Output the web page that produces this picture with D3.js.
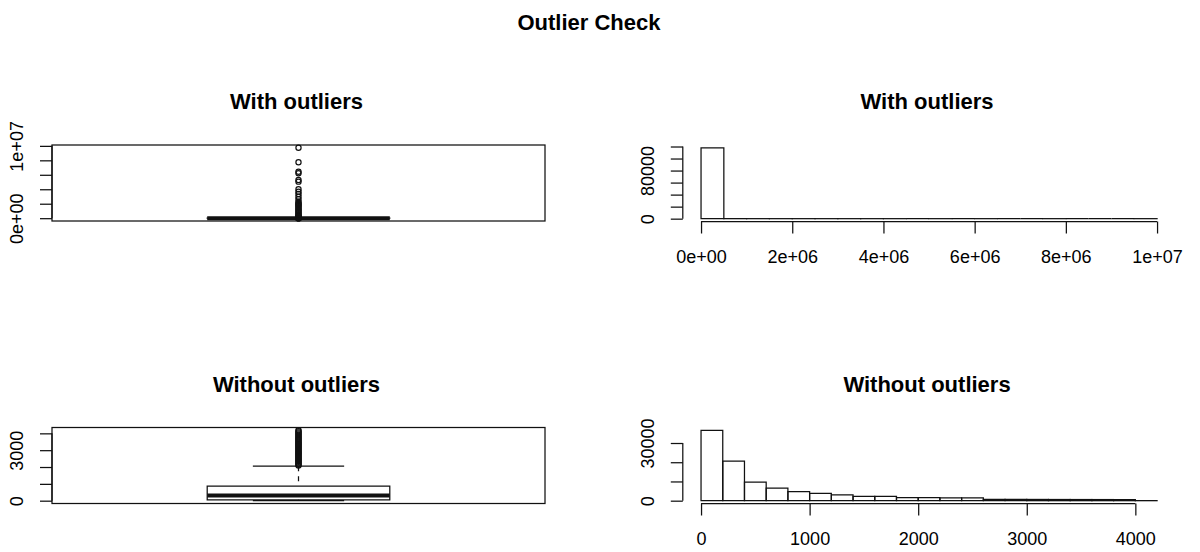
<!DOCTYPE html>
<html>
<head>
<meta charset="utf-8">
<script src="https://cdn.jsdelivr.net/npm/d3@7"></script>
<style>
  body { margin: 0; background: #fff; }
  svg { display: block; }
  text { font-family: "Liberation Sans", Arial, sans-serif; fill: #000; }
</style>
</head>
<body>
<svg id="chart" width="1200" height="552"></svg>
<script>
// ---------- data ----------
const mainTitle = "Outlier Check";
const panelTitles = ["With outliers", "With outliers", "Without outliers", "Without outliers"];

// box statistics: lower whisker, Q1, median, Q3, upper whisker
const boxAllStats = [0, 60, 330, 960, 2120];
const boxAllOutliers = [2150, 2600, 3400, 4500, 6800, 12000, 26000, 48000, 85000, 130000,
  210000, 300000, 420000, 550000, 700000, 860000, 1020000, 1180000, 1350000, 1520000,
  1680000, 1840000, 1970000, 2100000, 2280000, 2610000, 2970000, 3350000, 3670000,
  4000000, 5050000, 5280000, 6210000, 6430000, 7730000, 9730000];
const boxAllTicks = [0, 2e6, 4e6, 6e6, 8e6, 1e7];
const boxAllTickLabels = ["0e+00", "", "", "", "", "1e+07"];

const boxTrimStats = [0, 54, 310, 866, 2050];
const boxTrimOutliers = [2090, 2140, 2200, 2260, 2310, 2370, 2420, 2480, 2540, 2600,
  2650, 2710, 2770, 2830, 2880, 2940, 3000, 3060, 3120, 3170, 3230, 3290, 3350, 3400,
  3460, 3520, 3580, 3640, 3700, 3760, 3820, 3880, 3940, 4000, 4060, 4120, 4180];
const boxTrimTicks = [0, 1000, 2000, 3000, 4000];
const boxTrimTickLabels = ["0", "", "", "3000", ""];

const histAllBreaks = [0, 5e5, 1e6, 1.5e6, 2e6, 2.5e6, 3e6, 3.5e6, 4e6, 4.5e6, 5e6,
  5.5e6, 6e6, 6.5e6, 7e6, 7.5e6, 8e6, 8.5e6, 9e6, 9.5e6, 1e7];
const histAllCounts = [117800, 58, 21, 9, 5, 2, 1, 1, 1, 0, 2, 0, 2, 0, 0, 1, 0, 0, 0, 1];
const histAllXTicks = [0, 2e6, 4e6, 6e6, 8e6, 1e7];
const histAllXLabels = ["0e+00", "2e+06", "4e+06", "6e+06", "8e+06", "1e+07"];
const histAllYTicks = [0, 20000, 40000, 60000, 80000, 100000, 120000];
const histAllYLabels = ["0", "", "", "", "80000", "", ""];

const histTrimBreaks = [0, 200, 400, 600, 800, 1000, 1200, 1400, 1600, 1800, 2000,
  2200, 2400, 2600, 2800, 3000, 3200, 3400, 3600, 3800, 4000, 4200];
const histTrimCounts = [36600, 20600, 9600, 6500, 4700, 3850, 3000, 2300, 2250, 1550,
  1550, 1500, 1500, 700, 680, 650, 620, 600, 580, 560, 30];
const histTrimXTicks = [0, 1000, 2000, 3000, 4000];
const histTrimXLabels = ["0", "1000", "2000", "3000", "4000"];
const histTrimYTicks = [0, 10000, 20000, 30000];
const histTrimYLabels = ["0", "", "", "30000"];

// ---------- layout ----------
const INK = "#111";
const LW = 1.25;
const TICK = 12;
const panels = {
  tl: { x: 52, y: 145, w: 493, h: 76 },
  tr: { x: 682.8, y: 145, w: 492.5, h: 76.5 },
  bl: { x: 52, y: 427.5, w: 493, h: 76 },
  br: { x: 682.8, y: 427.5, w: 492.5, h: 76 }
};

const svg = d3.select("#chart");

// linear scale whose domain is the data range padded by 4% on each side
function padScale(lo, hi, r0, r1) {
  const pad = (hi - lo) * 0.04;
  return d3.scaleLinear().domain([lo - pad, hi + pad]).range([r0, r1]);
}

function title(txt, x, y) {
  svg.append("text").attr("x", x).attr("y", y)
    .attr("text-anchor", "middle").attr("font-size", 22).attr("font-weight", "bold")
    .text(txt);
}

function leftAxis(g, y, x0, ticks, labels) {
  const ax = d3.axisLeft(y).tickValues(ticks).tickSize(TICK).tickSizeOuter(0)
    .tickFormat((d, i) => labels[i]);
  const a = g.append("g").attr("transform", `translate(${x0},0)`).call(ax);
  a.select(".domain").remove();
  a.append("line").attr("x1", 0).attr("x2", 0)
    .attr("y1", y(ticks[0])).attr("y2", y(ticks[ticks.length - 1]))
    .attr("stroke", INK).attr("stroke-width", LW);
  a.selectAll(".tick line").attr("stroke", INK).attr("stroke-width", LW);
  a.selectAll(".tick text")
    .attr("x", null).attr("dy", null).attr("y", 0)
    .attr("transform", "translate(-29,0) rotate(-90)")
    .attr("text-anchor", "middle").attr("font-size", 18)
    .attr("font-family", "Liberation Sans, Arial, sans-serif").attr("fill", "#000");
}

function bottomAxis(g, x, y0, ticks, labels) {
  const ax = d3.axisBottom(x).tickValues(ticks).tickSize(TICK).tickSizeOuter(0)
    .tickFormat((d, i) => labels[i]);
  const a = g.append("g").attr("transform", `translate(0,${y0})`).call(ax);
  a.select(".domain").remove();
  a.append("line").attr("y1", 0).attr("y2", 0)
    .attr("x1", x(ticks[0])).attr("x2", x(ticks[ticks.length - 1]))
    .attr("stroke", INK).attr("stroke-width", LW);
  a.selectAll(".tick line").attr("stroke", INK).attr("stroke-width", LW);
  a.selectAll(".tick text")
    .attr("dy", null).attr("y", 41)
    .attr("text-anchor", "middle").attr("font-size", 18)
    .attr("font-family", "Liberation Sans, Arial, sans-serif").attr("fill", "#000");
}

function drawBox(p, stats, outliers, ticks, labels, ttl) {
  const g = svg.append("g");
  const all = stats.concat(outliers);
  const y = padScale(d3.min(all), d3.max(all), p.y + p.h, p.y);
  const x = d3.scaleLinear().domain([0.46, 1.54]).range([p.x, p.x + p.w]);
  const [lw, q1, med, q3, uw] = stats;

  // whiskers (dashed) and staples
  [[lw, q1], [uw, q3]].forEach(([a, b]) => {
    g.append("line").attr("x1", x(1)).attr("x2", x(1)).attr("y1", y(a)).attr("y2", y(b))
      .attr("stroke", INK).attr("stroke-width", LW).attr("stroke-dasharray", "5,5");
  });
  [lw, uw].forEach(v => {
    g.append("line").attr("x1", x(0.9)).attr("x2", x(1.1)).attr("y1", y(v)).attr("y2", y(v))
      .attr("stroke", INK).attr("stroke-width", LW);
  });
  // box and median
  const bx0 = x(0.8), bx1 = x(1.2);
  g.append("path")
    .attr("d", `M${bx0},${y(q1)}H${bx1}V${y(q3)}H${bx0}Z`)
    .attr("fill", "none").attr("stroke", INK).attr("stroke-width", LW);
  g.append("line").attr("x1", bx0).attr("x2", bx1).attr("y1", y(med)).attr("y2", y(med))
    .attr("stroke", INK).attr("stroke-width", 4);
  // outliers
  g.selectAll("circle.out").data(outliers).join("circle").attr("class", "out")
    .attr("cx", x(1)).attr("cy", d => y(d)).attr("r", 2.6)
    .attr("fill", "none").attr("stroke", INK).attr("stroke-width", 1.2);

  // frame and axis
  g.append("rect").attr("x", p.x).attr("y", p.y).attr("width", p.w).attr("height", p.h)
    .attr("fill", "none").attr("stroke", INK).attr("stroke-width", LW);
  leftAxis(g, y, p.x, ticks, labels);
  title(ttl, p.x + p.w / 2 - 2, p.y - 36);
}

function drawHist(p, breaks, counts, xt, xl, yt, yl, ttl) {
  const g = svg.append("g");
  const x = padScale(breaks[0], breaks[breaks.length - 1], p.x, p.x + p.w);
  const y = padScale(0, d3.max(counts), p.y + p.h, p.y);
  const bins = counts.map((c, i) => ({ x0: breaks[i], x1: breaks[i + 1], c }));
  // bars as closed outlines so that empty bins still show along the baseline
  g.selectAll("path.bar").data(bins).join("path").attr("class", "bar")
    .attr("d", d => `M${x(d.x0)},${y(0)}H${x(d.x1)}V${y(d.c)}H${x(d.x0)}Z`)
    .attr("fill", "none").attr("stroke", INK).attr("stroke-width", LW);
  leftAxis(g, y, p.x, yt, yl);
  bottomAxis(g, x, p.y + p.h, xt, xl);
  title(ttl, p.x + p.w / 2 - 2, p.y - 36);
}

title(mainTitle, 589, 30);
drawBox(panels.tl, boxAllStats, boxAllOutliers, boxAllTicks, boxAllTickLabels, panelTitles[0]);
drawHist(panels.tr, histAllBreaks, histAllCounts, histAllXTicks, histAllXLabels,
  histAllYTicks, histAllYLabels, panelTitles[1]);
drawBox(panels.bl, boxTrimStats, boxTrimOutliers, boxTrimTicks, boxTrimTickLabels, panelTitles[2]);
drawHist(panels.br, histTrimBreaks, histTrimCounts, histTrimXTicks, histTrimXLabels,
  histTrimYTicks, histTrimYLabels, panelTitles[3]);
</script>
</body>
</html>
